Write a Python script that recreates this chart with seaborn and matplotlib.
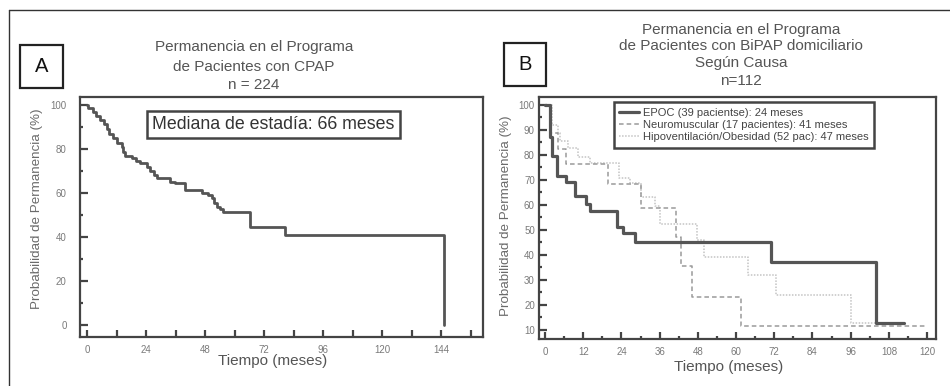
import numpy as np
import pandas as pd
import matplotlib
matplotlib.use("Agg")
import matplotlib.pyplot as plt
from matplotlib.patches import Rectangle
from matplotlib.lines import Line2D
from matplotlib.ticker import MultipleLocator
import seaborn as sns

# ---------------- data ----------------
# Panel A: CPAP (Kaplan-Meier, months vs %)
t_cpap = [0, 0.5, 2.6, 3.7, 5.3, 6.9, 8.0, 9.1, 10.7, 12.1, 14.1, 14.8, 15.4, 18.2,
          19.9, 21.5, 24.3, 25.6, 27.2, 28.6, 33.7, 35.8, 39.8, 46.6, 49.3, 50.7,
          51.6, 52.7, 54.1, 55.4, 66.3, 80.5, 145]
s_cpap = [100, 98.8, 97, 95.1, 93.2, 91.2, 89.1, 86.7, 84.9, 82.6, 81, 78.8, 77, 75.8,
          74.5, 73.5, 72, 70, 68.2, 66.7, 65.1, 64.4, 61.4, 60.1, 59.1, 57.6,
          55.6, 53.8, 52.6, 51.2, 44.4, 40.9, 0]

# Panel B: BiPAP by cause
t_epoc = [0, 1.4, 2.3, 3.7, 6.5, 9.4, 12.9, 14.2, 22.5, 24.6, 28.3, 71.1, 103.8, 112.7]
s_epoc = [100, 86.9, 79.6, 71.6, 69, 63.6, 60.3, 57.5, 51.2, 48.6, 45, 37.3, 12.7, 12.7]

t_neuro = [0, 2.0, 4.2, 6.5, 19.9, 30.2, 41.2, 42.8, 46.3, 61.5, 120]
s_neuro = [100, 88.5, 82.1, 76.1, 68.3, 58.6, 47, 35.7, 23.3, 11.6, 11.6]

t_hipo = [0, 2.3, 4.0, 4.7, 7.3, 10.5, 14.2, 23.3, 26.7, 30.2, 34.6, 36.2, 47.7,
          49.8, 63.7, 72.6, 96.2, 104]
s_hipo = [100, 92, 88.6, 85.3, 82.5, 79.2, 76.5, 70.5, 68.5, 63, 59.5, 52.2, 45.9,
          39, 32, 24, 12.7, 12.7]

labels_b = ["EPOC (39 pacientse): 24 meses",
            "Neuromuscular (17 pacientes): 41 meses",
            "Hipoventilación/Obesidad (52 pac): 47 meses"]

title_a = ["Permanencia en el Programa", "de Pacientes con CPAP", "n = 224"]
title_b = ["Permanencia en el Programa", "de Pacientes con BiPAP domiciliario",
           "Según Causa", "n=112"]
xticks_a = [0, 24, 48, 72, 96, 120, 144]
yticks_a = [0, 20, 40, 60, 80, 100]
xticks_b = [0, 12, 24, 36, 48, 60, 72, 84, 96, 108, 120]
yticks_b = [10, 20, 30, 40, 50, 60, 70, 80, 90, 100]

# ---------------- style ----------------
sns.set_style("white")
plt.rcParams["font.family"] = ["Liberation Sans", "DejaVu Sans"]

W, H = 950, 386
fig = plt.figure(figsize=(W / 100, H / 100), dpi=100)

def fx(px):
    return px / W

def fy(py):
    return 1 - py / H

SPINE = "#444444"
LINE = "#555555"
TXT = "#555555"
TICKTXT = "#7a7a7a"

axA = fig.add_axes([fx(80), fy(337), fx(483) - fx(80), fy(97) - fy(337)])
axB = fig.add_axes([fx(539), fy(339), fx(936) - fx(539), fy(97) - fy(339)])

dfA = pd.DataFrame({"t": t_cpap, "s": s_cpap})
sns.lineplot(data=dfA, x="t", y="s", ax=axA, drawstyle="steps-post", estimator=None,
             color=LINE, lw=2.0, sort=True)

dfE = pd.DataFrame({"t": t_epoc, "s": s_epoc})
dfN = pd.DataFrame({"t": t_neuro, "s": s_neuro})
dfH = pd.DataFrame({"t": t_hipo, "s": s_hipo})
sns.lineplot(data=dfH, x="t", y="s", ax=axB, drawstyle="steps-post", estimator=None,
             color="#c4c4c4", lw=1.1, linestyle=(0, (1, 1)), label=labels_b[2])
sns.lineplot(data=dfN, x="t", y="s", ax=axB, drawstyle="steps-post", estimator=None,
             color="#9a9a9a", lw=1.1, linestyle=(0, (3, 2)), label=labels_b[1])
sns.lineplot(data=dfE, x="t", y="s", ax=axB, drawstyle="steps-post", estimator=None,
             color=LINE, lw=2.3, label=labels_b[0])

# axes limits/ticks
axA.set_xlim(-2.85, 161)
axA.set_ylim(-5.5, 103.6)
axA.set_xticks(xticks_a)
axA.xaxis.set_minor_locator(MultipleLocator(12))
axA.set_yticks(yticks_a)
axA.yaxis.set_minor_locator(MultipleLocator(10))

axB.set_xlim(-1.9, 122.8)
axB.set_ylim(6.4, 103)
axB.set_xticks(xticks_b)
axB.xaxis.set_minor_locator(MultipleLocator(6))
axB.set_yticks(yticks_b)
axB.yaxis.set_minor_locator(MultipleLocator(5))

for ax in (axA, axB):
    ax.set_xlabel("")
    ax.set_ylabel("")
    for sp in ax.spines.values():
        sp.set_color(SPINE)
        sp.set_linewidth(1.6)
        sp.set_visible(True)
    ax.tick_params(which="both", direction="in", color=SPINE, width=1.6,
                   labelcolor=TICKTXT, labelsize=7, bottom=True, left=True,
                   top=False, right=False)
    ax.tick_params(axis="x", which="major", length=5, pad=6)
    ax.tick_params(axis="y", which="major", length=5.5)

axA.tick_params(axis="x", which="minor", length=5)
axA.tick_params(axis="y", which="minor", length=2)
axA.tick_params(axis="y", which="major", pad=9.5)
axB.tick_params(axis="x", which="minor", length=2.5)
axB.tick_params(axis="y", which="minor", length=2.5)
axB.tick_params(axis="y", which="major", pad=3)

# annotation in A
axA.text(75.8, 91.1, "Mediana de estadía: 66 meses", ha="center", va="center",
         fontsize=12.8, color="#333333",
         bbox=dict(boxstyle="square,pad=0.28", fc="white", ec=SPINE, lw=1.8))

# legend in B
handles, labs = axB.get_legend_handles_labels()
order = [labs.index(l) for l in labels_b]
leg = axB.legend([handles[i] for i in order], [labs[i] for i in order],
                 loc="upper left", bbox_to_anchor=(0.188, 0.979), fontsize=8,
                 frameon=True, fancybox=False, edgecolor=SPINE, framealpha=1,
                 handlelength=1.75, handletextpad=0.4, labelspacing=0.2,
                 borderpad=0.5, borderaxespad=0)
leg.get_frame().set_linewidth(1.8)
for t in leg.get_texts():
    t.set_color("#444444")

# titles
for txt, y in zip(title_a, [47.5, 67, 85]):
    fig.text(fx(254), fy(y), txt, ha="center", va="center", fontsize=11, color=TXT)
for txt, y in zip(title_b, [30, 46.5, 63, 81]):
    fig.text(fx(741), fy(y), txt, ha="center", va="center", fontsize=11, color=TXT)

# axis labels
fig.text(fx(273), fy(361), "Tiempo (meses)", ha="center", va="center", fontsize=11, color=TXT)
fig.text(fx(729), fy(367.5), "Tiempo (meses)", ha="center", va="center", fontsize=11, color=TXT)
fig.text(fx(37), fy(209), "Probabilidad de Permanencia (%)", ha="center", va="center",
         rotation=90, fontsize=9.6, color="#6a6a6a")
fig.text(fx(506), fy(216), "Probabilidad de Permanencia (%)", ha="center", va="center",
         rotation=90, fontsize=9.6, color="#6a6a6a")

# panel letter boxes
fig.patches.append(Rectangle((fx(20), fy(88)), fx(63) - fx(20), fy(45) - fy(88),
                             transform=fig.transFigure, fill=False, ec="#222222", lw=1.6))
fig.patches.append(Rectangle((fx(504), fy(86)), fx(546) - fx(504), fy(43) - fy(86),
                             transform=fig.transFigure, fill=False, ec="#222222", lw=1.6))
fig.text(fx(41.5), fy(67), "A", ha="center", va="center", fontsize=14.5, color="#111111")
fig.text(fx(525), fy(65), "B", ha="center", va="center", fontsize=14.5, color="#111111")

# outer frame (top and left)
fig.add_artist(Line2D([fx(9), 1.0], [fy(10), fy(10)], transform=fig.transFigure,
                      color="#333333", lw=1.0))
fig.add_artist(Line2D([fx(9), fx(9)], [fy(10), 0.0], transform=fig.transFigure,
                      color="#333333", lw=1.0))

fig.savefig("out.png", dpi=100)
